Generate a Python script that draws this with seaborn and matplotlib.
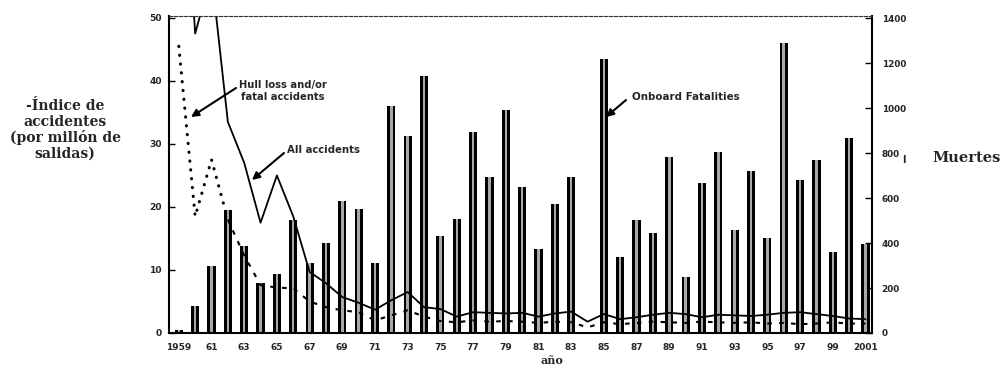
import matplotlib

matplotlib.use("Agg")
import matplotlib.pyplot as plt
import numpy as np
import pandas as pd
import seaborn as sns

# Data
years = list(range(1959, 2002))

# Onboard fatalities (right axis)
fatalities = [
    12, 119, 299, 546, 387, 224, 264, 501, 312, 400,
    585, 550, 312, 1011, 875, 1143, 431, 506, 892, 695,
    994, 651, 374, 576, 695, 0, 1218, 338, 501, 444,
    782, 251, 668, 804, 457, 721, 422, 1292, 681, 769,
    360, 866, 396,
]

# Accident rates per million departures (left axis)
all_accidents = [
    90.0, 47.5, 57.0, 33.5, 27.0, 17.5, 25.0, 18.5, 9.7, 7.9,
    5.7, 4.8, 3.7, 5.2, 6.5, 4.1, 3.8, 2.6, 3.3, 3.2,
    3.1, 3.2, 2.6, 3.1, 3.4, 1.8, 3.0, 2.2, 2.5, 2.9,
    3.2, 3.0, 2.5, 2.9, 2.8, 2.7, 2.9, 3.2, 3.3, 3.0,
    2.7, 2.3, 2.2,
]
hull_loss = [
    45.5, 18.5, 27.5, 18.0, 12.3, 7.6, 7.2, 7.1, 5.0, 4.1,
    3.6, 3.3, 2.0, 2.8, 3.6, 2.6, 1.9, 1.7, 2.0, 1.8,
    1.9, 1.8, 1.6, 1.8, 1.7, 0.9, 1.7, 1.4, 1.6, 1.8,
    1.7, 1.6, 1.8, 1.7, 1.6, 1.7, 1.5, 1.6, 1.4, 1.5,
    1.7, 1.5, 1.5,
]

x_tick_years = list(range(1959, 2002, 2))
x_tick_labels = [
    "1959", "61", "63", "65", "67", "69", "71", "73", "75", "77", "79",
    "81", "83", "85", "87", "89", "91", "93", "95", "97", "99", "2001",
]
left_ticks = [0, 10, 20, 30, 40, 50]
right_ticks = [0, 200, 400, 600, 800, 1000, 1200, 1400]

W, H = 1006, 366


def fig_xy(x, y):
    # pixel position (top-left origin) -> figure fraction
    return (x / W, 1 - y / H)


def plot_chart():
    df = pd.DataFrame(
        {
            "year": years,
            "fatalities": fatalities,
            "all": all_accidents,
            "hull": hull_loss,
        }
    )

    sns.set_theme(style="white")
    plt.rcParams["font.family"] = ["DejaVu Sans"]
    plt.rcParams["font.weight"] = "bold"

    fig = plt.figure(figsize=(W / 100, H / 100), dpi=100)
    ax = fig.add_axes([169 / W, 33 / H, 703 / W, 317 / H])
    ax2 = ax.twinx()

    # Fatality bars: black bar with a grey speckled stripe inside
    sns.barplot(data=df, x="year", y="fatalities", orient="x", native_scale=True,
                width=0.5, color="black", saturation=1, linewidth=0,
                errorbar=None, ax=ax2)
    sns.barplot(data=df, x="year", y="fatalities", orient="x", native_scale=True,
                width=0.15, color="#a8a8a8", saturation=1, linewidth=0,
                errorbar=None, ax=ax2)

    # Accident rate lines
    sns.lineplot(data=df, x="year", y="all", color="black", linewidth=1.3,
                 errorbar=None, ax=ax)
    sns.lineplot(data=df.iloc[:4], x="year", y="hull", color="black",
                 linewidth=2.2, linestyle=(0, (0.1, 2.8)),
                 dash_capstyle="round", errorbar=None, ax=ax)
    sns.lineplot(data=df.iloc[3:], x="year", y="hull", color="black",
                 linewidth=1.5, linestyle=(0, (2.2, 3.5)),
                 errorbar=None, ax=ax)

    ax.set_zorder(ax2.get_zorder() + 1)
    ax.patch.set_visible(False)

    ax.set_xlim(1958.4, 2001.4)
    ax.set_ylim(0, 50.3)
    ax2.set_ylim(0, 1410)

    ax.set_xticks(x_tick_years)
    ax.set_xticklabels(x_tick_labels)
    ax.set_yticks(left_ticks)
    ax2.set_yticks(right_ticks)
    ax.set_xlabel("")
    ax.set_ylabel("")
    ax2.set_xlabel("")
    ax2.set_ylabel("")

    ax.tick_params(axis="x", length=0, pad=7, labelsize=6.5)
    ax.tick_params(axis="y", direction="in", length=4, width=1, pad=5,
                   labelsize=6.6, color="black")
    ax2.tick_params(axis="y", direction="in", length=5, width=1, pad=7,
                    labelsize=6.4, color="black")

    for name in ["left", "bottom"]:
        ax.spines[name].set_color("black")
        ax.spines[name].set_linewidth(1.5)
    ax.spines["right"].set_visible(False)
    ax.spines["top"].set_color("#333333")
    ax.spines["top"].set_linewidth(0.8)
    ax.spines["top"].set_linestyle((0, (3, 1.5)))
    for name in ["left", "top", "bottom"]:
        ax2.spines[name].set_visible(False)
    ax2.spines["right"].set_color("black")
    ax2.spines["right"].set_linewidth(1.5)

    # Axis titles
    fig.text(*fig_xy(65, 130), "-Índice de\naccidentes\n(por millón de\nsalidas)",
             ha="center", va="center", family="DejaVu Serif", fontsize=10,
             linespacing=1.15)
    fig.text(*fig_xy(932, 158), "Muertes", ha="left", va="center",
             family="DejaVu Serif", fontsize=10.5)
    fig.text(*fig_xy(903.5, 160), "I", ha="center", va="center", fontsize=7)
    fig.text(*fig_xy(552, 360), "año", ha="center", va="center",
             family="DejaVu Serif", fontsize=8)

    # Series annotations with arrows
    fig.text(*fig_xy(283, 91), "Hull loss and/or\nfatal accidents", ha="center",
             va="center", fontsize=7.2, linespacing=1.3)
    fig.text(*fig_xy(287, 150), "All accidents", ha="left", va="center",
             fontsize=7.3)
    fig.text(*fig_xy(632, 97), "Onboard Fatalities", ha="left", va="center",
             fontsize=7.4)

    arrow = dict(arrowstyle="-|>", color="black", lw=1.5, mutation_scale=11,
                 shrinkA=0, shrinkB=0)
    for start, end in [((236, 88), (191, 117)),
                       ((284, 153), (252, 180)),
                       ((626, 100), (606, 117))]:
        ax.annotate("", xy=fig_xy(*end), xytext=fig_xy(*start),
                    xycoords="figure fraction", textcoords="figure fraction",
                    arrowprops=arrow)

    fig.savefig("out.png", dpi=100)
    plt.close(fig)


if __name__ == "__main__":
    plot_chart()
